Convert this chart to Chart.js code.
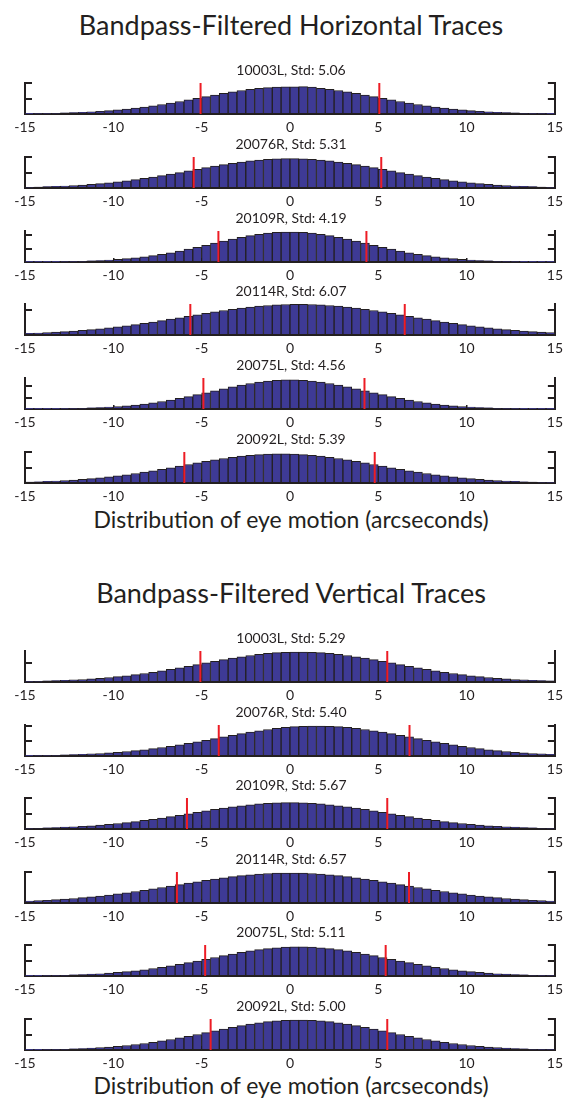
<!DOCTYPE html>
<html><head><meta charset="utf-8">
<script src="https://cdn.jsdelivr.net/npm/chart.js@4.4.1/dist/chart.umd.min.js"></script>
<style>
html,body{margin:0;padding:0;background:#fff;}
#wrap{position:relative;width:572px;height:1100px;overflow:hidden;font-family:Lato,sans-serif;color:#231f20;background:#fff;}
.t{position:absolute;white-space:nowrap;text-align:center;transform:translateX(-50%);line-height:1;}
canvas{position:absolute;left:0;}
</style></head><body><div id="wrap"></div>
<script>
// ---------------- data ----------------
const binCenters=[-14.75,-14.25,-13.75,-13.25,-12.75,-12.25,-11.75,-11.25,-10.75,-10.25,-9.75,-9.25,-8.75,-8.25,-7.75,-7.25,-6.75,-6.25,-5.75,-5.25,-4.75,-4.25,-3.75,-3.25,-2.75,-2.25,-1.75,-1.25,-0.75,-0.25,0.25,0.75,1.25,1.75,2.25,2.75,3.25,3.75,4.25,4.75,5.25,5.75,6.25,6.75,7.25,7.75,8.25,8.75,9.25,9.75,10.25,10.75,11.25,11.75,12.25,12.75,13.25,13.75,14.25,14.75];
const xTickLabels=[-15,-10,-5,0,5,10,15];

const groupTitles=['Bandpass-Filtered Horizontal Traces','Bandpass-Filtered Vertical Traces'];
const xAxisTitle='Distribution of eye motion (arcseconds)';

const hNames=['10003L','20076R','20109R','20114R','20075L','20092L'];
const hStds=[5.06,5.31,4.19,6.07,4.56,5.39];
const hMeans=[0.0,-0.14,0.14,0.43,-0.34,-0.59];
const hTickSteps=[50,50,43.5,80,37,50];

const vNames=['10003L','20076R','20109R','20114R','20075L','20092L'];
const vStds=[5.29,5.40,5.67,6.57,5.11,5.00];
const vMeans=[0.22,1.37,-0.16,0.17,0.31,0.51];
const vTickSteps=[62.5,47.6,50,93.5,50,50];

// bar heights, percent of each panel's y range
const h1=[1.1,1.5,2.0,2.6,3.4,4.4,5.5,7.0,8.7,10.7,13.1,15.9,19.0,22.5,26.5,30.7,35.4,40.3,45.4,50.7,56.0,61.3,66.4,71.2,75.7,79.6,82.8,85.3,87.0,87.9,
87.9,88.5,87.0,82.8,79.6,75.7,71.2,66.4,61.3,56.0,50.7,45.4,40.3,35.4,30.7,26.5,22.5,19.0,15.9,13.1,10.7,8.7,7.0,5.5,4.4,3.4,2.6,2.0,1.5,1.1];
const h2=[2.6,3.3,4.2,5.2,6.5,8.0,9.7,11.7,14.1,16.7,19.8,23.1,26.8,30.9,35.2,39.8,44.7,49.8,55.0,60.2,65.5,70.5,75.3,79.8,83.8,87.4,90.3,92.6,94.1,94.9,
94.9,94.1,92.6,90.3,87.4,83.8,79.8,75.3,70.5,65.5,60.2,55.0,49.8,44.7,39.8,35.2,30.9,26.8,23.1,19.8,16.7,14.1,11.7,9.7,8.0,6.5,5.2,4.2,3.3,2.6];
const h3=[0.4,0.5,0.8,1.1,1.5,2.0,2.7,3.7,4.9,6.4,8.3,10.7,13.4,16.7,20.6,24.9,29.9,35.4,41.3,47.6,54.1,60.8,67.4,73.8,79.8,85.1,89.6,93.1,95.6,96.8,
96.8,95.6,93.1,89.6,85.1,79.8,73.8,67.4,60.8,54.1,47.6,41.3,35.4,29.9,24.9,20.6,16.7,13.4,10.7,8.3,6.4,4.9,3.7,2.7,2.0,1.5,1.1,0.8,0.5,0.4];
const h4=[5.2,6.4,7.6,9.1,10.9,12.8,14.9,17.4,20.1,23.1,26.3,29.9,33.7,37.7,42.0,46.4,51.1,55.7,60.5,65.2,70.0,74.5,78.9,83.0,86.6,90.0,92.9,95.2,97.0,98.3,98.9,
98.9,98.3,97.0,95.2,92.9,90.0,86.6,83.0,78.9,74.5,70.0,65.2,60.5,55.7,51.1,46.4,42.0,37.7,33.7,29.9,26.3,23.1,20.1,17.4,14.9,12.8,10.9,9.1,7.6];
const h5=[0.4,0.5,0.8,1.0,1.4,2.0,2.6,3.6,4.8,6.2,8.1,10.3,13.0,16.2,19.9,24.2,29.0,34.3,40.0,46.2,52.5,58.9,65.3,71.5,77.4,82.4,86.9,90.2,92.7,93.8,
93.8,92.7,90.2,86.9,82.4,77.4,71.5,65.3,58.9,52.5,46.2,40.0,34.3,29.0,24.2,19.9,16.2,13.0,10.3,8.1,6.2,4.8,3.6,2.6,2.0,1.4,1.0,0.8,0.5,0.4];
const h6=[3.3,4.1,5.2,6.4,7.9,9.6,11.6,13.9,16.5,19.6,22.8,26.5,30.6,34.9,39.4,44.3,49.3,54.4,59.6,64.8,69.7,74.5,79.0,82.9,86.5,89.4,91.7,93.2,93.9,
93.9,93.2,91.7,89.4,86.5,82.9,79.0,74.5,69.7,64.8,59.6,54.4,49.3,44.3,39.4,34.9,30.6,26.5,22.8,19.6,16.5,13.9,11.6,9.6,7.9,6.4,5.2,4.1,3.3,2.5,2.0];

const v1=[2.0,2.6,3.4,4.3,5.3,6.6,8.1,9.9,11.9,14.4,17.1,20.2,23.6,27.4,31.5,36.0,40.6,45.7,50.8,56.2,61.5,66.8,72.0,76.9,81.5,85.6,89.2,92.2,94.6,96.1,96.9,
96.9,96.1,94.6,92.2,89.2,85.6,81.5,76.9,72.0,66.8,61.5,56.2,50.8,45.7,40.6,36.0,31.5,27.4,23.6,20.2,17.1,14.4,11.9,9.9,8.1,6.6,5.3,4.3,3.4];
const v2=[1.3,1.6,2.0,2.6,3.4,4.3,5.3,6.6,8.1,9.9,11.9,14.4,17.1,20.2,23.6,27.4,31.5,36.0,40.6,45.7,50.8,56.2,61.5,66.8,72.0,76.9,81.5,85.6,89.2,92.2,94.6,96.1,96.9,
96.9,96.1,94.6,92.2,89.2,85.6,81.5,76.9,72.0,66.8,61.5,56.2,50.8,45.7,40.6,36.0,31.5,27.4,23.6,20.2,17.1,14.4,11.9,9.9,8.1,6.6,5.3];
const v3=[2.3,3.0,3.7,4.7,5.8,7.1,8.7,10.5,12.6,15.0,17.7,20.7,24.0,27.6,31.5,35.6,40.0,44.5,49.2,53.9,58.6,63.1,67.4,71.4,75.0,78.2,80.8,82.9,84.2,84.9,
84.9,84.2,82.9,80.8,78.2,75.0,71.4,67.4,63.1,58.6,53.9,49.2,44.5,40.0,35.6,31.5,27.6,24.0,20.7,17.7,15.0,12.6,10.5,8.7,7.1,5.8,4.7,3.7,3.0,2.3];
const v4=[6.3,7.5,8.9,10.7,12.5,14.6,17.1,19.7,22.6,25.8,29.3,33.0,37.0,41.1,45.5,50.1,54.6,59.3,63.9,68.6,73.0,77.3,81.3,84.9,88.2,91.0,93.3,95.1,96.3,96.9,
96.9,96.3,95.1,93.3,91.0,88.2,84.9,81.3,77.3,73.0,68.6,63.9,59.3,54.6,50.1,45.5,41.1,37.0,33.0,29.3,25.8,22.6,19.7,17.1,14.6,12.5,10.7,8.9,7.5,6.3];
const v5=[0.9,1.2,1.6,2.2,2.8,3.7,4.7,5.9,7.4,9.3,11.5,14.0,17.0,20.3,24.1,28.3,32.8,37.8,43.1,48.5,54.1,59.8,65.5,71.0,76.0,80.8,85.0,88.5,91.1,93.0,93.9,
93.9,93.0,91.1,88.5,85.0,80.8,76.0,71.0,65.5,59.8,54.1,48.5,43.1,37.8,32.8,28.3,24.1,20.3,17.0,14.0,11.5,9.3,7.4,5.9,4.7,3.7,2.8,2.2,1.6];
const v6=[1.0,1.3,1.6,2.2,2.9,3.8,4.9,6.1,7.7,9.6,11.8,14.5,17.6,21.0,24.8,29.2,33.9,39.0,44.4,50.1,55.9,61.7,67.6,73.2,78.5,83.4,87.7,91.3,94.0,95.9,96.9,
96.9,95.9,94.0,91.3,87.7,83.4,78.5,73.2,67.6,61.7,55.9,50.1,44.4,39.0,33.9,29.2,24.8,21.0,17.6,14.5,11.8,9.6,7.7,6.1,4.9,3.8,2.9,2.2,1.6];

const hSeries=[h1,h2,h3,h4,h5,h6];
const vSeries=[v1,v2,v3,v4,v5,v6];

// ---------------- layout / style ----------------
const INK='#231f20', BAR='#3e3a95', RED='#ed1c24';
const PLOT_L=25, PLOT_R=557, PLOT_H=31, PAD_T=6, AXIS_H=24;
const wrap=document.getElementById('wrap');

function addText(txt, cx, cy, size){
  const d=document.createElement('div');
  d.className='t'; d.textContent=txt;
  d.style.fontSize=size+'px'; d.style.left=cx+'px'; d.style.top=(cy-size*0.53)+'px';
  wrap.appendChild(d); return d;
}

function panel(bottom, vals, mean, std, step, name){
  const c=document.createElement('canvas');
  c.width=572; c.height=PAD_T+PLOT_H+AXIS_H;
  c.style.top=(bottom-PLOT_H-PAD_T)+'px';
  wrap.appendChild(c);
  addText(name+', Std: '+std.toFixed(2), (PLOT_L+PLOT_R)/2, bottom-PLOT_H-12.5, 14);
  const yAxis=(pos,w)=>({
    type:'linear', position:pos, min:0, max:100,
    afterFit:s=>{s.width=w;},
    ticks:{display:false, stepSize:step, includeBounds:false},
    grid:{drawOnChartArea:false, drawTicks:true, tickLength:-7, color:INK, lineWidth:2},
    border:{display:true, color:INK, width:2}
  });
  new Chart(c,{
    type:'bar',
    data:{datasets:[
      {type:'line', data:[{x:mean-std,y:0},{x:mean-std,y:100}], borderColor:RED, borderWidth:2, pointRadius:0, order:0},
      {type:'line', data:[{x:mean+std,y:0},{x:mean+std,y:100}], borderColor:RED, borderWidth:2, pointRadius:0, order:0},
      {type:'bar', data:binCenters.map((x,i)=>({x:x,y:vals[i]})), backgroundColor:BAR, borderColor:INK, borderWidth:1,
       barPercentage:1, categoryPercentage:1, order:1}
    ]},
    options:{
      responsive:false, animation:false, events:[], devicePixelRatio:1,
      layout:{padding:{top:PAD_T,left:0,right:0,bottom:0}},
      plugins:{legend:{display:false}, tooltip:{enabled:false}, title:{display:false}},
      scales:{
        x:{type:'linear', min:-15, max:15, offset:false,
           afterFit:s=>{s.height=AXIS_H;},
           afterBuildTicks:s=>{s.ticks=xTickLabels.map(v=>({value:v}));},
           ticks:{font:{family:'Lato',size:14}, color:INK, padding:9, maxRotation:0, autoSkip:false, callback:v=>String(v)},
           grid:{offset:false, drawOnChartArea:false, drawTicks:true, tickLength:-4, color:INK, lineWidth:1.5},
           border:{display:true, color:INK, width:2}},
        y:yAxis('left',PLOT_L),
        y2:yAxis('right',572-PLOT_R)
      }
    }
  });
}

function build(){
  const cx=(PLOT_L+PLOT_R)/2;
  addText(groupTitles[0], cx, 25, 27);
  addText(groupTitles[1], cx, 593, 27);
  addText(xAxisTitle, cx, 520, 23);
  addText(xAxisTitle, cx, 1086, 23);
  for(let k=0;k<6;k++){
    panel(Math.round(114+73.8*k), hSeries[k], hMeans[k], hStds[k], hTickSteps[k], hNames[k]);
    panel(Math.round(682+73.6*k), vSeries[k], vMeans[k], vStds[k], vTickSteps[k], vNames[k]);
  }
}
if(document.fonts&&document.fonts.load){
  Promise.all([document.fonts.load('14px Lato'),document.fonts.load('27px Lato')]).then(build,build);
}else build();
</script></body></html>
